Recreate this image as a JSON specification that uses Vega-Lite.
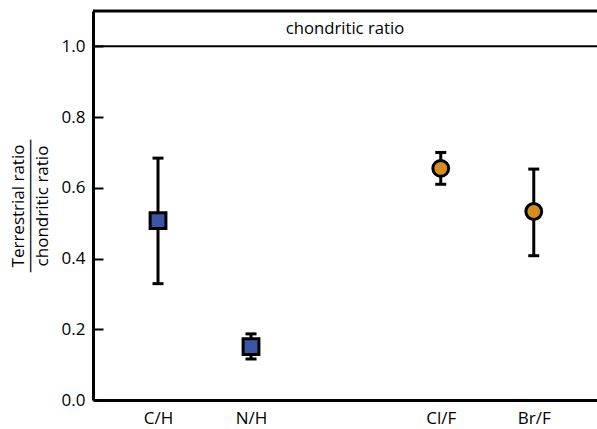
{
  "$schema": "https://vega.github.io/schema/vega-lite/v6.json",
  "width": 504,
  "height": 389,
  "autosize": {"type": "none"},
  "padding": {"left": 93, "top": 11, "right": 0, "bottom": 29},
  "background": "white",
  "config": {
    "view": {"stroke": null},
    "font": "Open Sans",
    "axis": {"grid": false, "domainColor": "black", "tickColor": "black", "labelColor": "black", "titleColor": "black"}
  },
  "datasets": {
    "ratios": [
      {"ratio": "C/H", "pos": 1, "value": 0.507, "low": 0.329, "high": 0.684, "group": "H"},
      {"ratio": "N/H", "pos": 2, "value": 0.151, "low": 0.116, "high": 0.187, "group": "H"},
      {"ratio": "Cl/F", "pos": 4.04, "value": 0.655, "low": 0.61, "high": 0.7, "group": "F"},
      {"ratio": "Br/F", "pos": 5.04, "value": 0.533, "low": 0.408, "high": 0.653, "group": "F"}
    ]
  },
  "encoding": {
    "x": {"field": "pos", "type": "quantitative",
      "scale": {"domain": [0.301, 5.72], "nice": false, "zero": false},
      "axis": {"orient": "bottom", "values": [1, 2, 4.04, 5.04],
        "labelExpr": "datum.value < 1.5 ? 'C/H' : datum.value < 3 ? 'N/H' : datum.value < 4.5 ? 'Cl/F' : 'Br/F'",
        "ticks": false, "domainWidth": 3, "labelFontSize": 17, "labelPadding": 10, "title": null}
    }
  },
  "layer": [
    {
      "data": {"values": [{"level": 1.0}]},
      "mark": {"type": "rule", "strokeWidth": 2, "color": "black"},
      "encoding": {
        "x": null,
        "y": {"field": "level", "type": "quantitative",
          "scale": {"domain": [0, 1.1], "nice": false, "zero": true},
          "axis": {"values": [0, 0.2, 0.4, 0.6, 0.8, 1.0], "format": ".1f",
            "tickSize": -10, "tickWidth": 2, "domainWidth": 3, "labelFontSize": 17, "labelPadding": 18,
            "title": ["Terrestrial ratio", "───────────", "chondritic ratio"], "titleFontSize": 17, "titleFontWeight": "normal",
            "titleLineHeight": 12, "titlePadding": 10}
        }
      }
    },
    {
      "data": {"values": [{"level": 1.1}]},
      "mark": {"type": "rule", "strokeWidth": 3, "color": "black"},
      "encoding": {"x": null, "y": {"field": "level", "type": "quantitative"}}
    },
    {
      "data": {"values": [{"label": "chondritic ratio", "pos": 3.01, "level": 1.05}]},
      "mark": {"type": "text", "fontSize": 16.7, "color": "black"},
      "encoding": {
        "y": {"field": "level", "type": "quantitative"},
        "text": {"field": "label"}
      }
    },
    {
      "data": {"name": "ratios"},
      "mark": {"type": "rule", "strokeWidth": 3, "color": "black"},
      "encoding": {
        "y": {"field": "low", "type": "quantitative"},
        "y2": {"field": "high"}
      }
    },
    {
      "data": {"name": "ratios"},
      "mark": {"type": "tick", "orient": "horizontal", "size": 11, "thickness": 3, "color": "black", "opacity": 1},
      "encoding": {"y": {"field": "low", "type": "quantitative"}}
    },
    {
      "data": {"name": "ratios"},
      "mark": {"type": "tick", "orient": "horizontal", "size": 11, "thickness": 3, "color": "black", "opacity": 1},
      "encoding": {"y": {"field": "high", "type": "quantitative"}}
    },
    {
      "data": {"name": "ratios"},
      "mark": {"type": "point", "filled": true, "stroke": "black", "strokeWidth": 3, "opacity": 1, "size": 250},
      "encoding": {
        "y": {"field": "value", "type": "quantitative"},
        "shape": {"field": "group", "type": "nominal", "scale": {"domain": ["H", "F"], "range": ["square", "circle"]}, "legend": null},
        "color": {"field": "group", "type": "nominal", "scale": {"domain": ["H", "F"], "range": ["#3a56a5", "#d68d1f"]}, "legend": null}
      }
    }
  ]
}
